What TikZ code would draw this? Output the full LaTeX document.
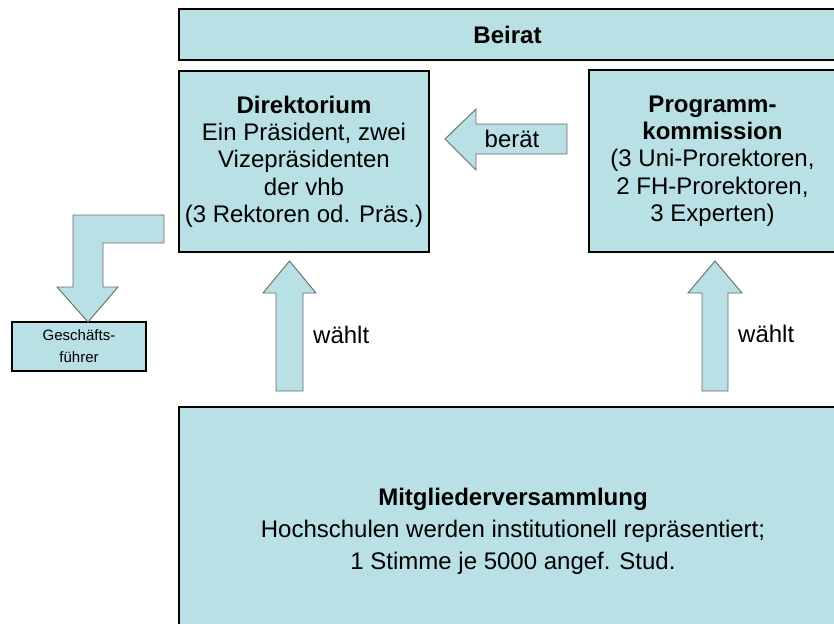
\documentclass[tikz,border=0pt]{standalone}
\usepackage{fontspec}
\setmainfont{Liberation Sans}
\usetikzlibrary{positioning}
\begin{document}
\begin{tikzpicture}[x=1pt,y=-1pt,
  box/.style={draw=black,fill=cbox,line width=1.1pt,align=center,
    inner sep=0pt,font=\fontsize{24}{27.3}\selectfont},
  blockarrow/.style={draw=carrow,fill=cbox,line width=0.9pt,line join=miter},
  armlabel/.style={font=\fontsize{24}{27}\selectfont,inner sep=0pt}]
%
\useasboundingbox (0,0) rectangle (834,623);
%
\definecolor{cbox}{rgb}{0.725,0.878,0.894}
\definecolor{carrow}{rgb}{0.40,0.42,0.42}
%
\node[box,minimum width=657pt,minimum height=51pt] (beirat) at (507.5,34.5) {\textbf{Beirat}};
\node[box,minimum width=250pt,minimum height=181pt] (direk) at (304,161.5)
  {\textbf{Direktorium}\\Ein Präsident, zwei\\Vizepräsidenten\\der vhb\\(3 Rektoren od. Präs.)};
\node[box,minimum width=247pt,minimum height=182pt] (prog) at (712.5,161)
  {\textbf{Programm-}\\\textbf{kommission}\\(3 Uni-Prorektoren,\\2 FH-Prorektoren,\\3 Experten)};
\node[box,minimum width=668pt,minimum height=248pt,font=\fontsize{24}{32}\selectfont] (mv) at (513,531)
  {\textbf{Mitgliederversammlung}\\Hochschulen werden institutionell repräsentiert;\\1 Stimme je 5000 angef. Stud.};
\node[box,minimum width=134pt,minimum height=49pt,font=\fontsize{15}{22}\selectfont] (gf) at (79,346.5)
  {Geschäfts-\\führer};
%
% waehlt (links)
\draw[blockarrow] (276,391) -- (276,293) -- (263,293) -- (289.5,261) -- (316,293) -- (303,293) -- (303,391) -- cycle;
\node[armlabel,anchor=west] (w1) at (313,335) {wählt};
% waehlt (rechts)
\draw[blockarrow] (702,391) -- (702,293) -- (688,293) -- (715,261) -- (742,293) -- (728,293) -- (728,391) -- cycle;
\node[armlabel,anchor=west] (w2) at (738,334) {wählt};
% beraet
\draw[blockarrow] (567,124) -- (476,124) -- (476,109) -- (445,139) -- (476,170) -- (476,154) -- (567,154) -- cycle;
\node[armlabel] (ber) at (512,139) {berät};
% Geschaeftsfuehrer
\draw[blockarrow] (164,215) -- (73,215) -- (73,287) -- (57,287) -- (88,322) -- (118,287) -- (103,287) -- (103,243) -- (164,243) -- cycle;
%
\end{tikzpicture}
\end{document}
